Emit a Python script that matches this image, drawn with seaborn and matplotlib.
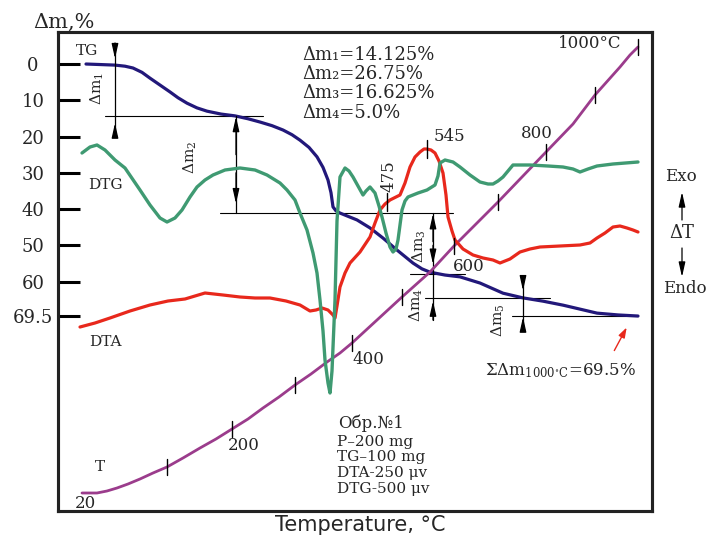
import numpy as np
import pandas as pd
import matplotlib
matplotlib.use("Agg")
import matplotlib.pyplot as plt
import seaborn as sns

# -----------------------------
# DATA
# x = position along the recording, 0..594
# -----------------------------
# TG: mass loss, %
tg_x = [28, 57, 67, 75, 84, 92, 102, 112, 120, 129, 139, 149, 163, 177, 190,
        202, 214, 225, 234, 242, 251, 259, 265, 270, 273, 275, 278, 282, 290,
        299, 312, 325, 339, 355, 364, 372, 387, 402, 422, 445, 465, 485, 505,
        522, 539, 560, 580]
tg_dm = [0, 0.3, 0.6, 1.1, 2.3, 3.9, 5.8, 7.7, 9.3, 10.8, 12.1, 13.0, 13.8,
         14.3, 15.1, 16.0, 17.0, 18.2, 19.5, 21.0, 23.0, 25.6, 28.5, 32.0, 35.5,
         39.4, 40.5, 41.1, 42.0, 43.0, 45.2, 48.0, 51.3, 54.9, 56.5, 57.4, 58.2,
         58.7, 60.4, 63.2, 64.5, 65.4, 66.5, 67.6, 68.7, 69.2, 69.5]

# DTA, DTG and T: signal in arbitrary units (height above the frame bottom)
dta_x = [22, 37, 52, 72, 92, 110, 127, 137, 147, 165, 182, 197, 212, 228, 242,
         247, 252, 258, 264, 270, 275, 277, 279, 282, 287, 292, 302, 312, 317,
         322, 327, 332, 342, 347, 352, 357, 362, 366, 369, 373, 377, 381, 385,
         388, 390, 394, 397, 405, 415, 425, 435, 442, 452, 462, 472, 482, 502,
         522, 532, 539, 547, 555, 562, 569, 575, 580]
dta_s = [184, 188, 193, 200, 206, 210, 212, 215, 218, 216, 214, 213, 213, 210,
         206, 203, 200, 201, 203, 201, 196, 193, 205, 224, 238, 248, 259, 274,
         288, 301, 307, 311, 316, 328, 344, 354, 359, 362, 362, 361, 358, 350,
         338, 316, 294, 280, 271, 262, 256, 253, 251, 248, 252, 259, 262, 264,
         265, 266, 268, 273, 278, 284, 285, 283, 281, 279]

dtg_x = [24, 32, 39, 47, 57, 67, 82, 92, 102, 109, 117, 124, 132, 139, 147,
         155, 167, 182, 197, 209, 222, 229, 237, 242, 249, 255, 259, 262, 265,
         267, 270, 272, 274, 277, 279, 282, 287, 291, 295, 300, 305, 308, 312,
         317, 321, 324, 328, 332, 335, 338, 340, 342, 344, 347, 350, 360, 369,
         377, 380, 382, 387, 395, 402, 412, 422, 430, 435, 440, 445, 450, 455,
         472, 490, 505, 515, 522, 530, 539, 555, 580]
dtg_s = [358, 364, 366, 361, 351, 343, 321, 306, 293, 289, 293, 301, 314, 324,
         331, 336, 341, 343, 341, 336, 328, 321, 311, 298, 281, 258, 238, 211,
         180, 151, 128, 118, 140, 211, 290, 334, 343, 340, 334, 325, 316, 320,
         324, 318, 305, 294, 278, 264, 259, 262, 271, 286, 301, 310, 314, 318,
         321, 326, 335, 348, 351, 349, 344, 336, 329, 327, 327, 330, 334, 340,
         346, 346, 345, 344, 342, 339, 342, 345, 347, 349]

t_x = [24, 39, 49, 59, 70, 82, 95, 109, 125, 142, 158, 174, 190, 205, 221, 237,
       253, 269, 282, 294, 319, 344, 372, 396, 418, 440, 464, 488, 515, 537,
       562, 572, 580]
t_s = [18, 18, 20, 23, 27, 32, 38, 44, 53, 63, 72, 82, 92, 103, 114, 126, 137,
       149, 158, 168, 191, 214, 239, 265, 287, 309, 334, 359, 387, 416, 444,
       456, 464]

# temperature marks on the T curve
t_marks = [100, 200, 300, 400, 500, 600, 700, 800, 900, 1000]
t_mark_x = [109, 174, 237, 294, 344, 396, 440, 488, 537, 580]
t_labels = ["20", "200", "400", "600", "800", "1000°C"]
t_label_pos = [(27, 8), (186, 66), (310, 152), (411, 245), (479, 378), (532, 468)]

# DTA peak marks
dta_marks = ["475", "545"]
dta_mark_x = [329, 369]

# mass-loss steps
dm_names = ["Δm₁", "Δm₂", "Δm₃", "Δm₄"]
dm_values = ["14.125%", "26.75%", "16.625%", "5.0%"]
# horizontal levels (%), and their extent
level_dm = [14.3, 41.1, 57.9, 64.5, 69.5]
level_x0 = [47, 162, 352, 367, 454]
level_x1 = [205, 395, 407, 492, 580]

yticks = [0, 10, 20, 30, 40, 50, 60, 69.5]
ytick_labels = ["0", "10", "20", "30", "40", "50", "60", "69.5"]

c_tg = "#22187a"
c_dtg = "#3f9a72"
c_dta = "#e8281c"
c_t = "#9b3c8c"

sns.set_style("white")
plt.rcParams["font.family"] = ["DejaVu Serif", "DejaVu Sans"]
plt.rcParams["mathtext.fontset"] = "dejavuserif"

fig = plt.figure(figsize=(7.12, 5.38), dpi=100)
ax = fig.add_axes([58 / 712, 27 / 538, 594 / 712, 479 / 538])
ax.set_xlim(0, 594)
ax.set_ylim(123.27, -8.83)
ax2 = ax.twinx()
ax2.set_ylim(0, 479)
ax2.set_yticks([])
ax2.set_xlim(0, 594)


def draw(axis, x, y, color, lw):
    df = pd.DataFrame({"x": x, "y": y})
    sns.lineplot(data=df, x="x", y="y", ax=axis, color=color, linewidth=lw,
                 sort=False, estimator=None, legend=False)


# -----------------------------
# CURVES
# -----------------------------
draw(ax, tg_x, tg_dm, c_tg, 2.3)
draw(ax2, t_x, t_s, c_t, 2.0)
draw(ax2, dta_x, dta_s, c_dta, 2.3)
draw(ax2, dtg_x, dtg_s, c_dtg, 2.4)
for ln in ax.lines + ax2.lines:
    ln.set_solid_joinstyle("round")

for lv, a, b in zip(level_dm, level_x0, level_x1):
    ax.plot([a, b], [lv, lv], color="black", lw=0.8, zorder=1)

# ticks on T curve
mark_s = np.interp(t_mark_x, t_x, t_s)
for mx, ms in zip(t_mark_x, mark_s):
    ax2.plot([mx, mx], [ms - 8, ms + 8], color="black", lw=1.0)
for lab, (lx, ly) in zip(t_labels, t_label_pos):
    ax2.text(lx, ly, lab, ha="center", va="center", fontsize=12)

# ticks on DTA
dmark_s = np.interp(dta_mark_x, dta_x, dta_s)
for mx, ms in zip(dta_mark_x, dmark_s):
    ax2.plot([mx, mx], [ms - 9, ms + 9], color="black", lw=1.0)
ax2.text(391, 375, dta_marks[1], ha="center", va="center", fontsize=12)
ax2.text(331, 335, dta_marks[0], ha="center", va="center", fontsize=12, rotation=90)

# -----------------------------
# DIMENSION ARROWS
# -----------------------------
arrow_kw = dict(arrowstyle="-|>,head_length=0.8,head_width=0.18", color="black",
                lw=0.9, mutation_scale=11, shrinkA=0, shrinkB=0)


def dim(x, top, bottom, tips):
    ax.plot([x, x], [top, bottom], color="black", lw=0.9, zorder=2)
    for tail, tip in tips:
        ax.annotate("", xy=(x, tip), xytext=(x, tail), arrowprops=arrow_kw)


dim(57, -5.8, 20.1, [(-5.8, -1.5), (20.1, 16.3)])
dim(178, 14.3, 41.1, [(25, 14.5), (30, 38.5)])
dim(375, 41.1, 57.9, [(49, 41.3), (50, 55.2)])
dim(375, 57.9, 70.6, [(70.6, 65.4)])
dim(465, 59.2, 72.2, [(59.2, 62.5), (72.2, 69.8)])

ax.text(39, 6.7, "Δm$_1$", rotation=90, ha="center", va="center", fontsize=11)
ax.text(132, 25.8, "Δm$_2$", rotation=90, ha="center", va="center", fontsize=11)
ax.text(361, 50.2, "Δm$_3$", rotation=90, ha="center", va="center", fontsize=11)
ax.text(358, 66.5, "Δm$_4$", rotation=90, ha="center", va="center", fontsize=11)
ax.text(440, 70.6, "Δm$_5$", rotation=90, ha="center", va="center", fontsize=11)

# -----------------------------
# TEXT
# -----------------------------
for n, v, hy in zip(dm_names, dm_values, [456, 437, 418, 398]):
    ax2.text(244, hy, f"{n}={v}", ha="left", va="center", fontsize=13)

ax2.text(29, 460, "TG", ha="center", va="center", fontsize=11)
ax2.text(47, 326, "DTG", ha="center", va="center", fontsize=11)
ax2.text(47, 169, "DTA", ha="center", va="center", fontsize=11)
ax2.text(42, 44, "T", ha="center", va="center", fontsize=11)

ax2.text(313, 88, "Обр.№1", ha="center", va="center", fontsize=12)
for txt, hy in zip(["P–200 mg", "TG–100 mg", "DTA-250 μv", "DTG-500 μv"],
                   [69, 54, 38, 22]):
    ax2.text(279, hy, txt, ha="left", va="center", fontsize=11)

ax2.text(427, 140, r"ΣΔm$_{\mathrm{1000^{\circ}C}}$=69.5%", ha="left",
         va="center", fontsize=12)
ax2.annotate("", xy=(570, 186), xytext=(555, 158),
             arrowprops=dict(arrowstyle="-|>,head_length=0.6,head_width=0.2",
                             color=c_dta, lw=1.0, mutation_scale=10))

ax2.text(623, 335, "Exo", ha="center", va="center", fontsize=12)
ax2.text(624, 278, "ΔT", ha="center", va="center", fontsize=13)
ax2.text(627, 223, "Endo", ha="center", va="center", fontsize=12)
ax2.annotate("", xy=(624, 319), xytext=(624, 291), arrowprops=arrow_kw,
             annotation_clip=False)
ax2.annotate("", xy=(624, 234), xytext=(624, 263), arrowprops=arrow_kw,
             annotation_clip=False)

ax2.text(-25, 489, "Δm,%", ha="left", va="center", fontsize=15)

# -----------------------------
# AXES STYLE
# -----------------------------
ax.set_yticks(yticks)
ax.set_yticklabels(ytick_labels, fontsize=13)
ax.set_xticks([])
ax.tick_params(axis="y", direction="in", length=16, width=2.2, pad=18,
               color="black")
for t in ax.get_yticklabels():
    t.set_horizontalalignment("center")
ax.set_xlabel("")
ax.set_ylabel("")
ax2.set_xlabel("")
ax2.set_ylabel("")
for s in list(ax.spines.values()) + list(ax2.spines.values()):
    s.set_linewidth(2.2)
    s.set_color("#222222")

fig.text(360 / 712, 1 - 525 / 538, "Temperature, °C", ha="center", va="center",
         fontsize=15, family=["DejaVu Sans"])

fig.savefig("out.png", dpi=100)
